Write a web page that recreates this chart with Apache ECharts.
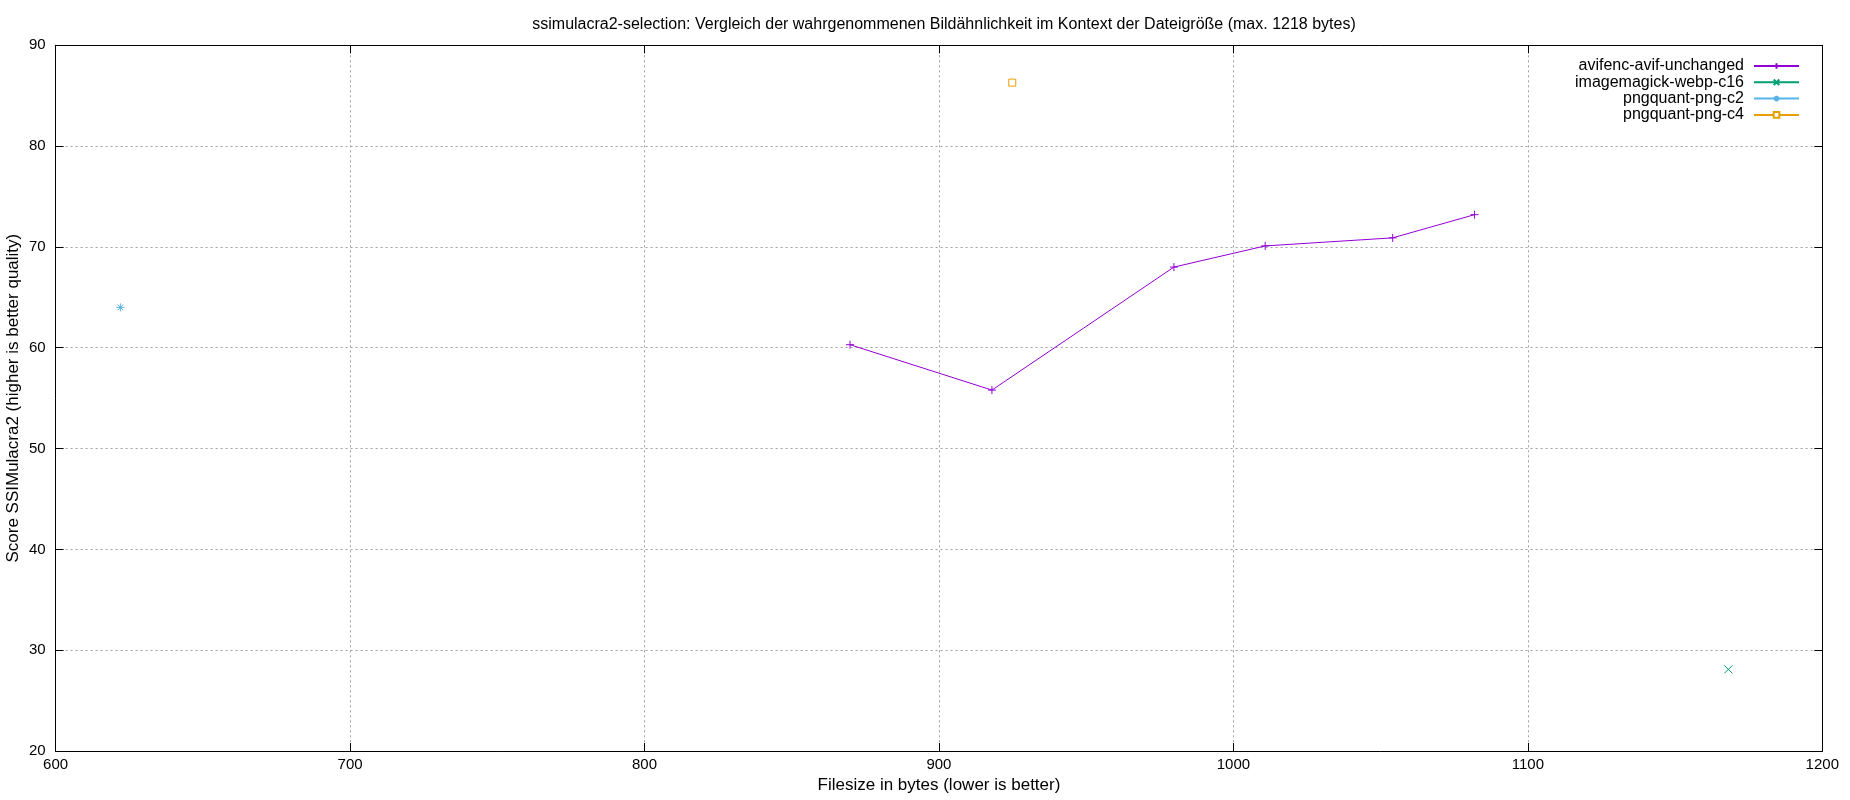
<!DOCTYPE html>
<html>
<head>
<meta charset="utf-8">
<script src="https://cdn.jsdelivr.net/npm/echarts@6/dist/echarts.min.js"></script>
<style>
html,body{margin:0;padding:0;background:#fff;}
#chart{width:1850px;height:800px;}
</style>
</head>
<body>
<div id="chart"></div>
<script>
const titleText = 'ssimulacra2-selection: Vergleich der wahrgenommenen Bildähnlichkeit im Kontext der Dateigröße (max. 1218 bytes)';
const xAxisName = 'Filesize in bytes (lower is better)';
const yAxisName = 'Score SSIMulacra2 (higher is better quality)';

const seriesNames = ['avifenc-avif-unchanged', 'imagemagick-webp-c16', 'pngquant-png-c2', 'pngquant-png-c4'];

const avifX = [869.8, 918.0, 979.8, 1010.8, 1054.1, 1081.9];
const avifY = [60.3, 55.8, 68.0, 70.1, 70.9, 73.2];
const webpX = [1168.1];
const webpY = [28.1];
const c2X = [622.0];
const c2Y = [64.0];
const c4X = [924.9];
const c4Y = [86.3];

const xTicks = [600, 700, 800, 900, 1000, 1100, 1200];
const yTicks = [20, 30, 40, 50, 60, 70, 80, 90];

const colors = ['#9400d3', '#009e73', '#56b4e9', '#e69f00'];
const symbols = [
  'path://M0,5L10,5M5,0L5,10',
  'path://M0,0L10,10M10,0L0,10',
  'path://M0,5L10,5M5,0L5,10M1.5,1.5L8.5,8.5M8.5,1.5L1.5,8.5',
  'path://M0,0L10,0L10,10L0,10Z'
];

function pairs(xs, ys) { return xs.map((x, i) => [x, ys[i]]); }
const dataSets = [pairs(avifX, avifY), pairs(webpX, webpY), pairs(c2X, c2Y), pairs(c4X, c4Y)];

const font = "'Liberation Sans', Arial, sans-serif";

const chart = echarts.init(document.getElementById('chart'), null, {renderer: 'canvas'});

const gridLine = {show: true, lineStyle: {color: '#a0a0a0', type: [2, 3], width: 1}};
const frameLine = {show: true, onZero: false, lineStyle: {color: '#000', width: 1}};
const tickIn = {show: true, inside: true, length: 8, lineStyle: {color: '#000', width: 1}};
const plain = v => String(v);

chart.setOption({
  animation: false,
  backgroundColor: '#fff',
  title: {
    text: titleText,
    left: 939, textAlign: 'center',
    top: 12,
    textStyle: {fontFamily: font, fontSize: 16, fontWeight: 'normal', color: '#000'}
  },
  legend: {
    data: seriesNames,
    orient: 'vertical',
    right: 45,
    top: 53,
    align: 'right',
    itemWidth: 45,
    itemHeight: 7,
    itemGap: 0.3,
    textStyle: {fontFamily: font, fontSize: 16, color: '#000', lineHeight: 15, padding: [0, 5, 0, 0]}
  },
  grid: {left: 55.6, right: 27.7, top: 45.3, bottom: 49, containLabel: false, outerBoundsMode: 'none'},
  xAxis: [{
    type: 'value', min: xTicks[0], max: xTicks[xTicks.length - 1], interval: 100,
    position: 'bottom',
    name: xAxisName, nameLocation: 'middle', nameGap: 26, nameMoveOverlap: false,
    nameTextStyle: {fontFamily: font, fontSize: 17, color: '#000'},
    axisLine: frameLine, axisTick: tickIn,
    axisLabel: {fontFamily: font, fontSize: 15, color: '#000', margin: 6, formatter: plain},
    splitLine: gridLine
  }, {
    type: 'value', min: xTicks[0], max: xTicks[xTicks.length - 1], interval: 100,
    position: 'top',
    axisLine: frameLine, axisTick: tickIn,
    axisLabel: {show: false}, splitLine: {show: false}
  }],
  yAxis: [{
    type: 'value', min: yTicks[0], max: yTicks[yTicks.length - 1], interval: 10,
    position: 'left',
    name: yAxisName, nameLocation: 'middle', nameGap: 34, nameRotate: 90, nameMoveOverlap: false,
    nameTextStyle: {fontFamily: font, fontSize: 17, color: '#000'},
    axisLine: frameLine, axisTick: tickIn,
    axisLabel: {fontFamily: font, fontSize: 15, color: '#000', margin: 10, formatter: plain},
    splitLine: gridLine
  }, {
    type: 'value', min: yTicks[0], max: yTicks[yTicks.length - 1], interval: 10,
    position: 'right',
    axisLine: frameLine, axisTick: tickIn,
    axisLabel: {show: false}, splitLine: {show: false}
  }],
  series: seriesNames.map((name, i) => ({
    name: name,
    type: 'line',
    xAxisIndex: 0, yAxisIndex: 0,
    data: dataSets[i],
    color: colors[i],
    symbol: symbols[i],
    symbolSize: i === 3 ? 7 : 8,
    showSymbol: true,
    showAllSymbol: true,
    lineStyle: {color: colors[i], width: 1},
    itemStyle: {color: i === 3 ? '#fff' : colors[i], borderColor: colors[i], borderWidth: 1},
    emphasis: {disabled: true}
  }))
});
</script>
</body>
</html>
